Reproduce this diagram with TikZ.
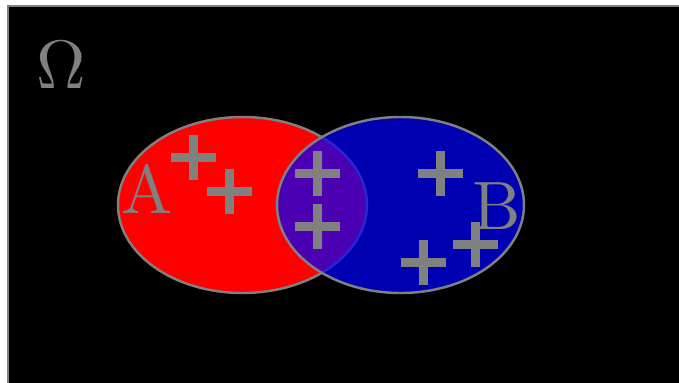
\documentclass[tikz,border=0pt]{standalone}
\usepackage{graphicx}
\usepackage{tikz}
\usetikzlibrary{positioning}
\definecolor{VennGray}{HTML}{808080}
\definecolor{VennRed}{HTML}{FF0000}
\definecolor{VennBlue}{HTML}{0000FF}
\tikzset{
  universe/.style={draw=VennGray,line width=0.6pt,fill=black},
  setA/.style={draw=VennGray,line width=1.4pt,fill=VennRed},
  setB/.style={draw=VennGray,line width=1.4pt,fill=VennBlue,fill opacity=0.7},
  setlabel/.style={text=VennGray,inner sep=0pt},
  plusbar/.style={draw=VennGray,line width=0.18cm}
}

\begin{document}
\begin{tikzpicture}[x=0.02cm,y=-0.02cm]
  \useasboundingbox (0,0) rectangle (679,382);
  \fill[white] (0,0) rectangle (679,382);
  \draw[universe] (8,6) rectangle (690,392);

  \draw[setA] (242.5,205) ellipse [x radius=124.5,y radius=88];
  \draw[setB] (400.5,205) ellipse [x radius=123.5,y radius=88];

  \node[setlabel] (omega) at (61,65) {\scalebox{3.9}{$\Omega$}};
  \node[setlabel] (lblA) at (147.5,189) {\scalebox{3.9}{A}};
  \node[setlabel] (lblB) at (497,206) {\scalebox{3.9}{B}};

  % elements
  \foreach \px/\py in {193/157,229/191,317.5/173.5,317.5/226.5,440/173,475/244,423/262}
    \draw[plusbar] (\px-22.5,\py) -- (\px+22.5,\py) (\px,\py-22.5) -- (\px,\py+22.5);
\end{tikzpicture}
\end{document}
